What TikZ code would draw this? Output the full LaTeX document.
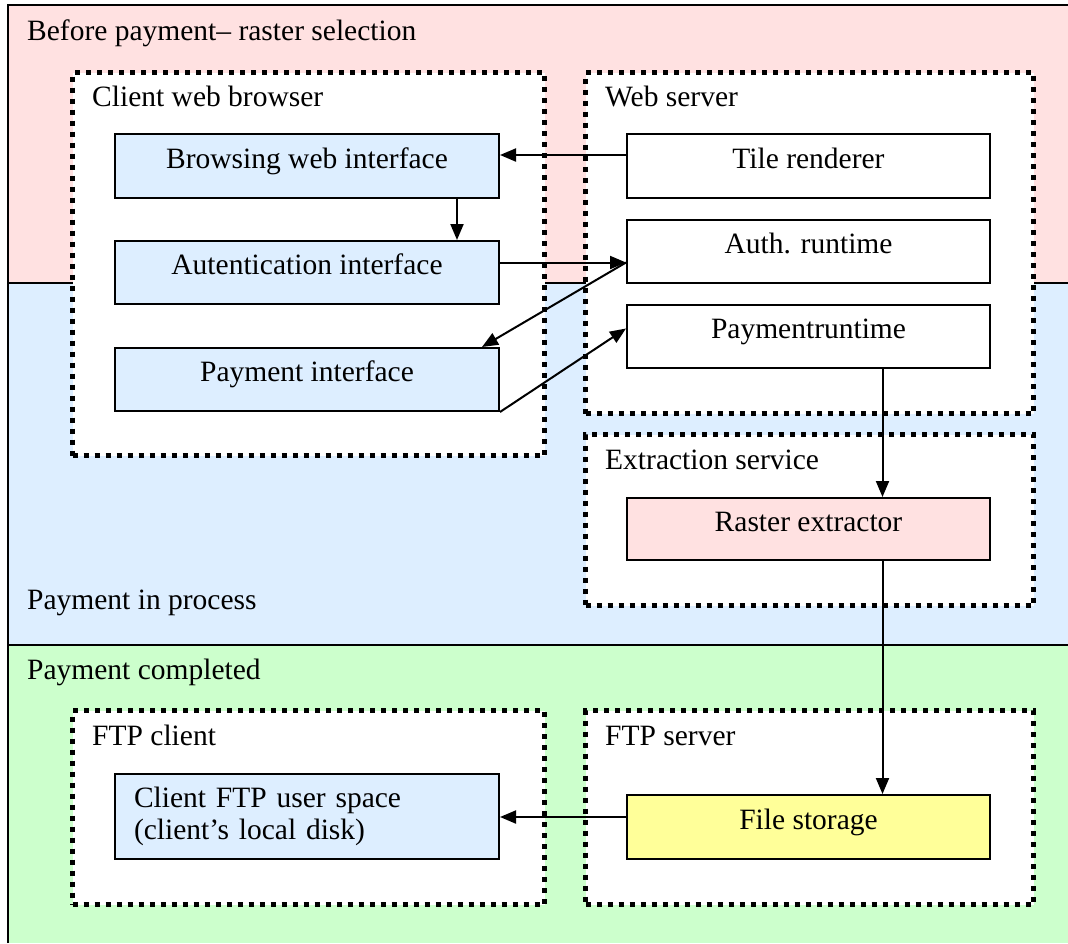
\documentclass[tikz,border=0pt]{standalone}
\usepackage{fontspec}
\setmainfont{Liberation Serif}
\usetikzlibrary{arrows.meta}
\definecolor{bandpink}{HTML}{FFE1E1}
\definecolor{bandblue}{HTML}{DDEEFF}
\definecolor{bandgreen}{HTML}{CCFFCC}
\definecolor{boxblue}{HTML}{DDEEFF}
\definecolor{boxpink}{HTML}{FFE1E1}
\definecolor{boxyellow}{HTML}{FFFF99}
\tikzset{
  container/.style={draw, fill=white, line width=5pt, dash pattern=on 5pt off 6pt,
    anchor=north west, inner sep=0pt},
  compbase/.style={draw, line width=2pt, anchor=north west, inner sep=0pt,
    minimum width=384pt, minimum height=64pt},
  comp/.style={compbase, text height=15pt, text depth=11pt},
  lbl/.style={anchor=base west, inner sep=0pt},
  arr/.style={line width=2pt, -{Triangle[length=16pt,width=13pt]}},
  sep/.style={line width=1.8pt}
}
\begin{document}
\begin{tikzpicture}[x=1pt,y=-1pt,font=\fontsize{29.5}{32}\selectfont]
\useasboundingbox (0,0) rectangle (1068,943);
% bands
\fill[bandpink] (8,5) rectangle (1068,283);
\fill[bandblue] (8,283) rectangle (1068,645);
\fill[bandgreen] (8,645) rectangle (1068,943);
\draw[sep] (8,943) -- (8,5) -- (1068,5);
\draw[sep] (8,283) -- (1068,283);
\draw[sep] (8,645) -- (1068,645);
\node[lbl] (lbefore) at (27,40) {Before payment– raster selection};
\node[lbl] (lprocess) at (27,609) {Payment in process};
\node[lbl] (lcompleted) at (27,679) {Payment completed};
% containers
\node[container, minimum width=472pt, minimum height=383pt] (cwb) at (70,70) {};
\node[container, minimum width=448pt, minimum height=341pt] (ws) at (583,70) {};
\node[container, minimum width=448pt, minimum height=171pt] (es) at (583,432) {};
\node[container, minimum width=472pt, minimum height=194pt] (fc) at (70,708) {};
\node[container, minimum width=448pt, minimum height=194pt] (fs) at (583,708) {};
\node[lbl] (lcwb) at (92,106) {Client web browser};
\node[lbl] (lws) at (605,106) {Web server};
\node[lbl] (les) at (605,469) {Extraction service};
\node[lbl] (lfc) at (92,745) {FTP client};
\node[lbl] (lfs) at (605,745) {FTP server};
% components
\node[comp, fill=boxblue] (bwi) at (114,133) {Browsing web interface};
\node[comp, fill=boxblue, minimum height=63pt] (aui) at (114,240) {Autentication interface};
\node[comp, fill=boxblue, minimum height=63pt] (pai) at (114,347) {Payment interface};
\node[comp, fill=white, minimum width=363pt] (tile) at (626,133) {Tile renderer};
\node[comp, fill=white, minimum width=363pt, minimum height=63pt] (aur) at (626,219) {Auth. runtime};
\node[comp, fill=white, minimum width=363pt, minimum height=63pt] (par) at (626,304) {Paymentruntime};
\node[comp, fill=boxpink, minimum width=363pt, minimum height=62pt] (rex) at (626,497) {Raster extractor};
\node[compbase, fill=boxblue, minimum height=85pt, inner xsep=19pt,
      text width=346pt, align=left] (cfu) at (114,773) {Client FTP user space\\(client’s local disk)};
\node[comp, fill=boxyellow, minimum width=363pt] (fst) at (626,794) {File storage};
% connectors
\draw[arr] ([yshift=11pt]tile.west) -- ([yshift=11pt]tile.west -| bwi.east);
\draw[arr] ([xshift=150pt]bwi.south) -- ([xshift=150pt]aui.north);
\draw[arr] ([yshift=10pt]aui.east) -- ([yshift=10pt]aui.east -| aur.west);
\draw[arr] ([yshift=10pt]aui.east -| aur.west) -- ([xshift=-18pt]pai.north east);
\draw[arr] (pai.south east) -- ([yshift=8pt]par.west);
\draw[arr] ([xshift=74pt]par.south) -- ([xshift=74pt]rex.north);
\draw[arr] ([xshift=74pt]rex.south) -- ([xshift=74pt]fst.north);
\draw[arr] ([yshift=10pt]fst.west) -- ([yshift=10pt]fst.west -| cfu.east);
\end{tikzpicture}
\end{document}
